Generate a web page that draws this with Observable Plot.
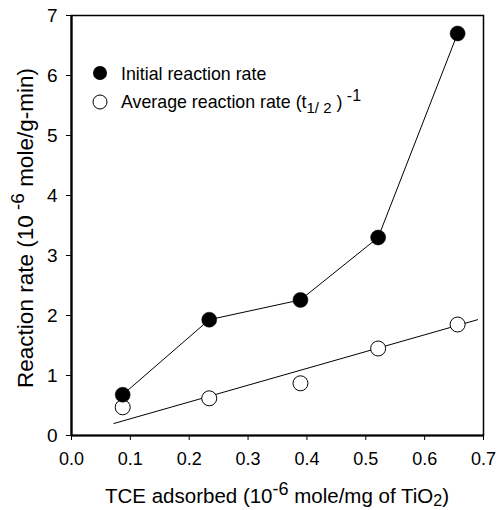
<!DOCTYPE html>
<html><head><meta charset="utf-8">
<script src="https://cdn.jsdelivr.net/npm/d3@7"></script>
<script src="https://cdn.jsdelivr.net/npm/@observablehq/plot@0.6"></script>
<style>
body{margin:0;background:#fff;}
#chart svg{font-family:"Liberation Sans", Arial, sans-serif;}
</style>
</head><body><div id="chart"></div>
<script>
// Data
const tceAdsorbed = [0.087, 0.234, 0.389, 0.521, 0.656];
const initialRate = [0.68, 1.93, 2.26, 3.30, 6.70];
const averageRate = [0.47, 0.62, 0.87, 1.45, 1.85];
const fitX = [0.072, 0.690];
const fitY = [0.20, 1.93];
const xTicks = [0, 0.1, 0.2, 0.3, 0.4, 0.5, 0.6, 0.7];
const yTicks = [0, 1, 2, 3, 4, 5, 6, 7];
const seriesNames = ["Initial reaction rate", "Average reaction rate"];

const initial = tceAdsorbed.map((x, i) => ({x, y: initialRate[i]}));
const average = tceAdsorbed.map((x, i) => ({x, y: averageRate[i]}));
const fit = fitX.map((x, i) => ({x, y: fitY[i]}));

const plot = Plot.plot({
  width: 496, height: 510,
  marginLeft: 71, marginRight: 13, marginTop: 15, marginBottom: 75,
  x: {domain: [0, 0.7]},
  y: {domain: [0, 7]},
  style: {fontFamily: '"Liberation Sans", Arial, sans-serif', background: "#fff", color: "#000"},
  marks: [
    Plot.frame({stroke: "#000", strokeWidth: 1.5}),
    Plot.axisX({ticks: xTicks, tickFormat: d3.format(".1f"), tickSize: 5, tickPadding: 12, fontSize: 18, label: null, stroke: "#000", strokeWidth: 1}),
    Plot.axisY({ticks: yTicks, tickFormat: d3.format("d"), tickSize: 5, tickPadding: 9, fontSize: 19, label: null, stroke: "#000", strokeWidth: 1}),
    Plot.ruleX([0], {stroke: "#000", strokeWidth: 2.2}),
    Plot.ruleY([0], {stroke: "#000", strokeWidth: 2.2}),
    Plot.line(fit, {x: "x", y: "y", stroke: "#000", strokeWidth: 1}),
    Plot.line(initial, {x: "x", y: "y", stroke: "#000", strokeWidth: 1}),
    Plot.dot(average, {x: "x", y: "y", r: 7.5, fill: "#fff", stroke: "#000", strokeWidth: 1}),
    Plot.dot(initial, {x: "x", y: "y", r: 7.5, fill: "#000", stroke: "#000", strokeWidth: 0.5})
  ]
});

const svg = d3.select(plot);
// X axis title
const xt = svg.append("text").attr("x", 277).attr("y", 503).attr("text-anchor", "middle")
  .attr("font-size", 20.5).attr("fill", "#000");
xt.append("tspan").text("TCE adsorbed (10");
xt.append("tspan").attr("dy", -8).attr("font-size", 18).text("-6");
xt.append("tspan").attr("dy", 8).text(" mole/mg of TiO");
xt.append("tspan").attr("dy", 3).attr("font-size", 16).text("2");
xt.append("tspan").attr("dy", -3).text(")");

// Y axis title
const yt = svg.append("text").attr("transform", "translate(33,228) rotate(-90)").attr("text-anchor", "middle")
  .attr("font-size", 22.5).attr("fill", "#000");
yt.append("tspan").text("Reaction rate (10");
yt.append("tspan").attr("dy", -9).attr("font-size", 19).text(" -6");
yt.append("tspan").attr("dy", 9).text(" mole/g-min)");

// Legend
const lg = svg.append("g").attr("font-size", 17.8).attr("fill", "#000").attr("text-anchor", "start");
lg.append("circle").attr("cx", 100).attr("cy", 73).attr("r", 7).attr("fill", "#000");
lg.append("text").attr("x", 121).attr("y", 80).attr("text-anchor", "start").text(seriesNames[0]);
lg.append("circle").attr("cx", 100).attr("cy", 102).attr("r", 7).attr("fill", "#fff").attr("stroke", "#000");
const t2 = lg.append("text").attr("x", 121).attr("y", 108).attr("text-anchor", "start");
t2.append("tspan").text(seriesNames[1] + " (t");
t2.append("tspan").attr("dy", 5).attr("font-size", 15).text("1/ 2");
t2.append("tspan").attr("dy", -5).text(" )");
t2.append("tspan").attr("dy", -7).attr("font-size", 16).text(" -1");

document.getElementById("chart").appendChild(plot);
</script>
</body></html>
